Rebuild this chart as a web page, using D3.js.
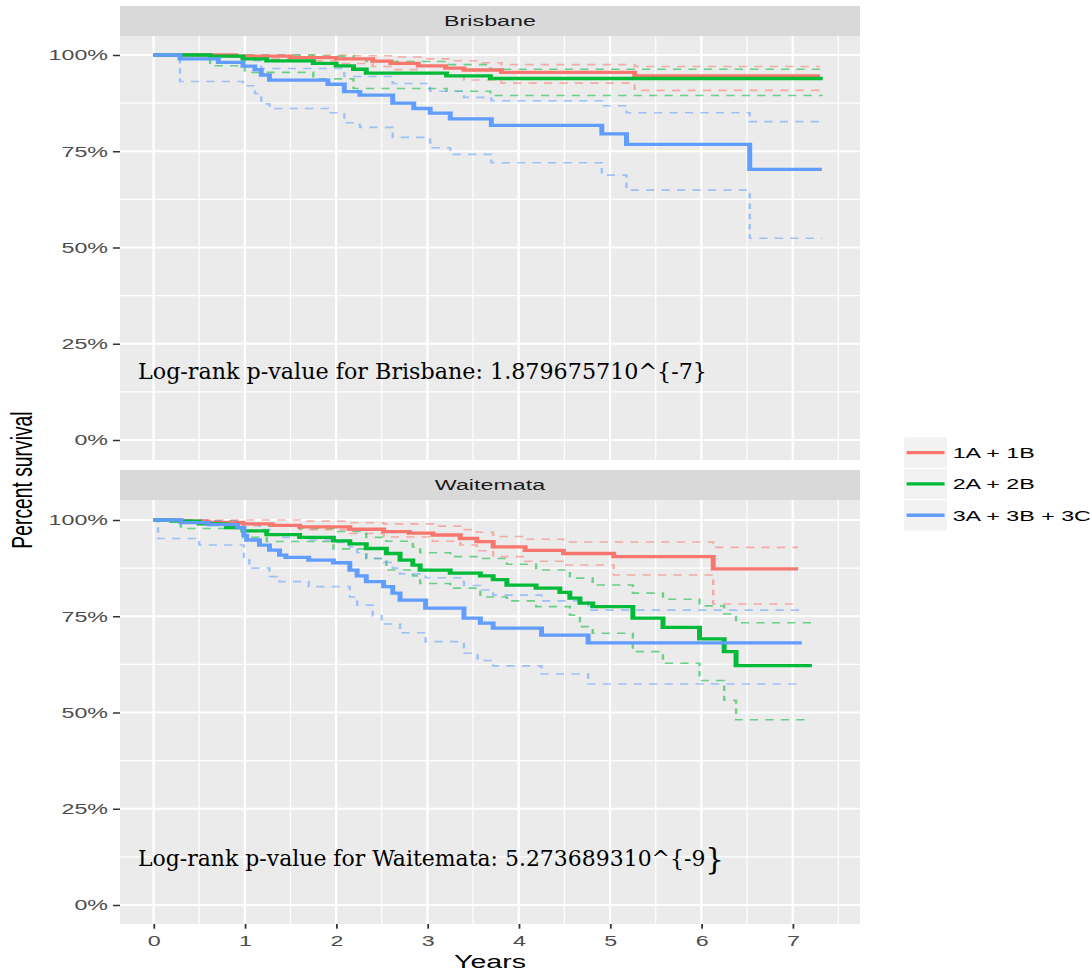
<!DOCTYPE html>
<html>
<head>
<meta charset="utf-8">
<script src="https://cdn.jsdelivr.net/npm/d3@7"></script>
<style>
  body { margin: 0; background: #fff; }
  svg { display: block; }
</style>
</head>
<body>
<div id="chart"></div>
<script>
// ---- data (years, survival) ----
var groups = ["1A + 1B", "2A + 2B", "3A + 3B + 3C"];
var colors = ["#F8766D", "#00BA38", "#619CFF"];
var panelNames = ["Brisbane", "Waitemata"];
var yTicks = [0, 0.25, 0.5, 0.75, 1];
var xTicks = [0, 1, 2, 3, 4, 5, 6, 7];
var pText = ["Log-rank p-value for Brisbane: 1.879675710^{-7}",
             "Log-rank p-value for Waitemata: 5.273689310^{-9"];

// Brisbane
var brisEst1 = [[0,1],[0.9,0.997],[1.5,0.993],[2.0,0.99],[2.4,0.984],[2.6,0.978],[2.9,0.972],[3.2,0.966],[3.4,0.961],[3.81,0.955],[5.27,0.946]];
var brisLo1  = [[0,1],[0.9,0.99],[1.5,0.985],[2.0,0.978],[2.4,0.97],[2.6,0.962],[2.9,0.953],[3.2,0.945],[3.4,0.935],[3.81,0.927],[5.27,0.908]];
var brisHi1  = [[0,1],[2.2,0.998],[2.6,0.995],[3.0,0.99],[3.3,0.985],[3.6,0.98],[3.81,0.975],[5.27,0.97]];
var brisEst2 = [[0,1],[0.62,0.997],[0.98,0.99],[1.24,0.985],[1.75,0.978],[2.0,0.972],[2.19,0.963],[2.33,0.953],[3.21,0.946],[3.69,0.939]];
var brisLo2  = [[0,1],[0.62,0.972],[1.0,0.955],[1.75,0.938],[2.19,0.913],[3.21,0.906],[3.69,0.895]];
var brisHi2  = [[0,1],[1.75,0.997],[2.19,0.99],[2.33,0.983],[3.21,0.975],[3.69,0.963]];
var brisEst3 = [[0,1],[0.29,0.99],[0.71,0.981],[0.98,0.971],[1.11,0.962],[1.18,0.948],[1.27,0.935],[1.91,0.924],[2.09,0.905],[2.26,0.896],[2.62,0.875],[2.85,0.861],[3.03,0.849],[3.25,0.834],[3.70,0.817],[4.91,0.795],[5.18,0.768],[6.53,0.703]];
var brisLo3  = [[0,1],[0.29,0.931],[0.98,0.92],[1.11,0.9],[1.18,0.873],[1.27,0.861],[1.91,0.85],[2.09,0.824],[2.26,0.812],[2.62,0.786],[3.03,0.759],[3.25,0.742],[3.70,0.72],[4.91,0.688],[5.18,0.649],[6.53,0.524]];
var brisHi3  = [[0,1],[0.71,0.995],[0.98,0.985],[1.18,0.965],[2.09,0.944],[2.62,0.926],[3.03,0.906],[3.4,0.89],[3.70,0.881],[4.91,0.868],[5.18,0.85],[6.53,0.827]];
var brisEnd  = [7.30, 7.33, 7.32];

// Waitemata
var waitEst1 = [[0,1],[0.3,0.997],[0.6,0.994],[0.98,0.99],[1.3,0.986],[1.6,0.982],[2.15,0.976],[2.52,0.97],[2.8,0.966],[3.06,0.961],[3.36,0.952],[3.54,0.944],[3.72,0.93],[4.07,0.921],[4.49,0.913],[5.04,0.905],[6.13,0.873]];
var waitLo1  = [[0,1],[0.5,0.994],[0.98,0.985],[1.6,0.975],[2.15,0.965],[2.52,0.956],[3.06,0.945],[3.36,0.935],[3.54,0.92],[3.72,0.905],[4.07,0.893],[4.49,0.883],[5.04,0.857],[6.13,0.782]];
var waitHi1  = [[0,1],[1.6,0.997],[2.15,0.993],[2.52,0.99],[3.06,0.984],[3.36,0.975],[3.54,0.968],[3.72,0.957],[4.07,0.95],[4.49,0.943],[6.13,0.929]];
var waitEst2 = [[0,1],[0.2,0.997],[0.5,0.99],[0.8,0.98],[0.98,0.972],[1.24,0.962],[1.6,0.955],[1.97,0.946],[2.15,0.938],[2.33,0.926],[2.55,0.913],[2.7,0.896],[2.84,0.883],[2.92,0.87],[3.25,0.862],[3.58,0.855],[3.72,0.845],[3.87,0.831],[4.19,0.823],[4.45,0.812],[4.56,0.797],[4.67,0.784],[4.81,0.775],[5.25,0.745],[5.58,0.721],[5.98,0.691],[6.25,0.658],[6.38,0.622]];
var waitLo2  = [[0,1],[0.3,0.978],[0.98,0.955],[1.24,0.944],[1.97,0.925],[2.33,0.9],[2.55,0.87],[2.84,0.855],[2.92,0.835],[3.25,0.823],[3.58,0.8],[3.87,0.79],[4.19,0.775],[4.56,0.753],[4.67,0.723],[4.81,0.706],[5.25,0.658],[5.58,0.628],[5.98,0.583],[6.25,0.532],[6.38,0.481]];
var waitHi2  = [[0,1],[0.5,0.997],[0.98,0.99],[1.24,0.984],[1.6,0.978],[1.97,0.97],[2.33,0.955],[2.55,0.945],[2.84,0.93],[2.92,0.915],[3.25,0.905],[3.58,0.9],[3.87,0.885],[4.19,0.87],[4.56,0.849],[4.81,0.831],[5.25,0.81],[5.58,0.794],[5.98,0.777],[6.25,0.756],[6.38,0.733]];
var waitEst3 = [[0,1],[0.3,0.993],[0.6,0.988],[0.92,0.98],[0.99,0.96],[1.02,0.948],[1.16,0.935],[1.27,0.922],[1.38,0.909],[1.45,0.903],[1.7,0.896],[1.97,0.889],[2.15,0.87],[2.23,0.855],[2.33,0.84],[2.52,0.827],[2.62,0.81],[2.7,0.792],[2.98,0.771],[3.4,0.745],[3.58,0.732],[3.72,0.719],[4.25,0.701],[4.76,0.681]];
var waitLo3  = [[0,1],[0.05,0.952],[0.5,0.935],[0.99,0.896],[1.05,0.875],[1.27,0.853],[1.38,0.84],[1.7,0.827],[2.15,0.8],[2.23,0.779],[2.4,0.751],[2.5,0.73],[2.7,0.707],[2.98,0.684],[3.4,0.654],[3.55,0.635],[3.72,0.621],[4.25,0.6],[4.76,0.574]];
var waitHi3  = [[0,1],[0.6,0.998],[0.99,0.99],[1.16,0.975],[1.27,0.965],[1.38,0.955],[1.7,0.948],[1.97,0.942],[2.15,0.93],[2.23,0.915],[2.33,0.9],[2.52,0.89],[2.62,0.875],[2.7,0.86],[2.98,0.85],[3.4,0.83],[3.58,0.818],[3.72,0.805],[4.25,0.79],[4.76,0.766]];
var waitEnd  = [7.06, 7.21, 7.10];

// ---- layout ----
// the reference is a horizontally stretched ggplot, so draw in a narrow
// space and stretch it with preserveAspectRatio="none"
var svgWidth = 1091, svgHeight = 972;
var S = 1.5;
var W = svgWidth / S;
var font = "'Liberation Sans', Arial, Helvetica, sans-serif";

var panelLeft = 80, panelRight = 573.3;
var layout = [
  { stripTop: 6,   top: 36,  bottom: 460, y0: 440, y1: 55 },
  { stripTop: 470, top: 500, bottom: 924, y0: 905, y1: 520 }
];

var series = [
  { est: [brisEst1, brisEst2, brisEst3], lo: [brisLo1, brisLo2, brisLo3], hi: [brisHi1, brisHi2, brisHi3], end: brisEnd },
  { est: [waitEst1, waitEst2, waitEst3], lo: [waitLo1, waitLo2, waitLo3], hi: [waitHi1, waitHi2, waitHi3], end: waitEnd }
];

var svg = d3.select("#chart").append("svg")
  .attr("width", svgWidth)
  .attr("height", svgHeight);

var inner = svg.append("svg")
  .attr("viewBox", "0 0 " + W + " " + svgHeight)
  .attr("width", svgWidth)
  .attr("height", svgHeight)
  .attr("preserveAspectRatio", "none");

var x = d3.scaleLinear().domain([-0.367, 7.737]).range([panelLeft, panelRight]);

var xMinor = xTicks.map(function(t) { return t + 0.5; });
var yMinor = yTicks.slice(1).map(function(t) { return t - 0.125; });

function withEnd(pts, end) {
  return pts.concat([[end, pts[pts.length - 1][1]]]);
}

layout.forEach(function(L, p) {
  var y = d3.scaleLinear().domain([0, 1]).range([L.y0, L.y1]);
  var g = inner.append("g");

  // strip
  g.append("rect")
    .attr("x", panelLeft).attr("y", L.stripTop)
    .attr("width", panelRight - panelLeft).attr("height", L.top - L.stripTop)
    .attr("fill", "#D9D9D9");
  g.append("text")
    .attr("x", (panelLeft + panelRight) / 2)
    .attr("y", (L.stripTop + L.top) / 2 + 5.5)
    .attr("text-anchor", "middle")
    .style("font-family", font).style("font-size", "15.5px")
    .attr("fill", "#1A1A1A")
    .text(panelNames[p]);

  // panel background + grid
  g.append("rect")
    .attr("x", panelLeft).attr("y", L.top)
    .attr("width", panelRight - panelLeft).attr("height", L.bottom - L.top)
    .attr("fill", "#EBEBEB");

  g.selectAll(".ymin").data(yMinor).enter().append("line")
    .attr("x1", panelLeft).attr("x2", panelRight)
    .attr("y1", function(d) { return y(d); }).attr("y2", function(d) { return y(d); })
    .attr("stroke", "#fff").attr("stroke-width", 1.1);
  g.selectAll(".xmin").data(xMinor).enter().append("line")
    .attr("y1", L.top).attr("y2", L.bottom)
    .attr("x1", function(d) { return x(d); }).attr("x2", function(d) { return x(d); })
    .attr("stroke", "#fff").attr("stroke-width", 0.8);
  g.selectAll(".ymaj").data(yTicks).enter().append("line")
    .attr("x1", panelLeft).attr("x2", panelRight)
    .attr("y1", function(d) { return y(d); }).attr("y2", function(d) { return y(d); })
    .attr("stroke", "#fff").attr("stroke-width", 2.2);
  g.selectAll(".xmaj").data(xTicks).enter().append("line")
    .attr("y1", L.top).attr("y2", L.bottom)
    .attr("x1", function(d) { return x(d); }).attr("x2", function(d) { return x(d); })
    .attr("stroke", "#fff").attr("stroke-width", 1.5);

  // curves
  var line = d3.line()
    .x(function(d) { return x(d[0]); })
    .y(function(d) { return y(d[1]); })
    .curve(d3.curveStepAfter);

  var s = series[p];
  [s.lo, s.hi].forEach(function(set) {
    set.forEach(function(pts, i) {
      g.append("path")
        .attr("d", line(withEnd(pts, s.end[i])))
        .attr("fill", "none")
        .attr("stroke", colors[i])
        .attr("stroke-opacity", 0.55)
        .attr("stroke-width", 1.6)
        .attr("stroke-dasharray", "5.5,4.8");
    });
  });
  s.est.forEach(function(pts, i) {
    g.append("path")
      .attr("d", line(withEnd(pts, s.end[i])))
      .attr("fill", "none")
      .attr("stroke", colors[i])
      .attr("stroke-width", 3.3);
  });

  // y axis
  var yAxis = d3.axisLeft(y).tickValues(yTicks)
    .tickFormat(d3.format(".0%")).tickSize(4.7).tickPadding(3.3);
  var ya = g.append("g").attr("transform", "translate(" + panelLeft + ",0)").call(yAxis);
  ya.select(".domain").remove();
  ya.selectAll("line").attr("stroke", "#333333").attr("stroke-width", 1.5);
  ya.selectAll("text").attr("fill", "#4D4D4D")
    .style("font-family", font).style("font-size", "15.5px");

  if (p === 1) {
    var xAxis = d3.axisBottom(x).tickValues(xTicks).tickSize(4.7).tickPadding(6);
    var xa = g.append("g").attr("transform", "translate(0," + L.bottom + ")").call(xAxis);
    xa.select(".domain").remove();
    xa.selectAll("line").attr("stroke", "#333333").attr("stroke-width", 1.2);
    xa.selectAll("text").attr("fill", "#4D4D4D")
      .style("font-family", font).style("font-size", "15.5px");
  }
});

// axis titles
inner.append("text")
  .attr("x", (panelLeft + panelRight) / 2)
  .attr("y", 968)
  .attr("text-anchor", "middle")
  .style("font-family", font).style("font-size", "19px")
  .attr("fill", "#000")
  .text("Years");

inner.append("text")
  .attr("transform", "translate(21.3," + (layout[0].top + layout[1].bottom) / 2 + ") rotate(-90)")
  .attr("text-anchor", "middle")
  .style("font-family", font).style("font-size", "19.3px")
  .attr("fill", "#000")
  .text("Percent survival");

// legend
var legend = inner.append("g");
var keyLeft = 602.7, keyW = 28.7, rowH = 31.3, legTop = 437.5;
groups.forEach(function(name, i) {
  var top = legTop + i * rowH;
  legend.append("rect")
    .attr("x", keyLeft).attr("y", top)
    .attr("width", keyW).attr("height", rowH - 1)
    .attr("fill", "#F2F2F2");
  legend.append("line")
    .attr("x1", keyLeft + 1.7).attr("x2", keyLeft + keyW - 1.7)
    .attr("y1", top + (rowH - 1) / 2).attr("y2", top + (rowH - 1) / 2)
    .attr("stroke", colors[i]).attr("stroke-width", 3.3);
  legend.append("text")
    .attr("x", 635.1)
    .attr("y", top + (rowH - 1) / 2 + 5.5)
    .style("font-family", font).style("font-size", "15.5px")
    .attr("fill", "#000")
    .text(name);
});

// log-rank annotations (pasted on later, not stretched)
var serif = "'DejaVu Serif', 'Liberation Serif', serif";
svg.append("text")
  .attr("x", 138).attr("y", 379)
  .attr("textLength", 569).attr("lengthAdjust", "spacingAndGlyphs")
  .style("font-family", serif).style("font-size", "22.5px")
  .attr("fill", "#000")
  .text(pText[0]);
var t2 = svg.append("text")
  .attr("x", 138).attr("y", 866)
  .attr("textLength", 586).attr("lengthAdjust", "spacingAndGlyphs")
  .style("font-family", serif).style("font-size", "22.5px")
  .attr("fill", "#000");
t2.append("tspan").text(pText[1]);
t2.append("tspan").attr("dy", 3).style("font-size", "30px").text("}");
</script>
</body>
</html>
